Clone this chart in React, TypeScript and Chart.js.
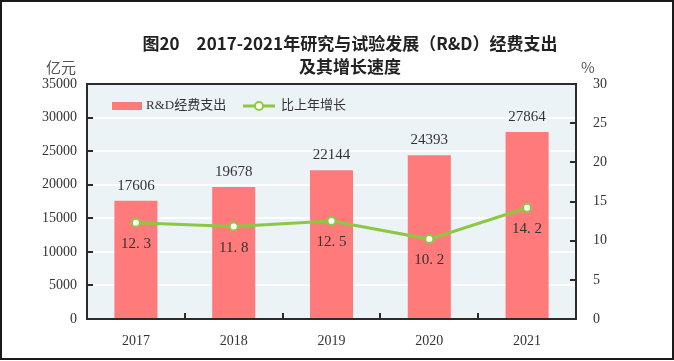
import React, { useEffect, useRef } from "react";
import { Chart, registerables } from "chart.js";

Chart.register(...registerables);

const categories = ["2017", "2018", "2019", "2020", "2021"];
const spending = [17606, 19678, 22144, 24393, 27864];
const growth = [12.3, 11.8, 12.5, 10.2, 14.2];
const leftMax = 35000;
const leftStep = 5000;
const rightMax = 30;
const rightStep = 5;
const titleLines = ["图20\u30002017-2021年研究与试验发展（R&D）经费支出", "及其增长速度"];
const leftUnit = "亿元";
const rightUnit = "%";
const barLabel = "R&D经费支出";
const lineLabel = "比上年增长";

const BAR_COLOR = "#FF7B7B";
const LINE_COLOR = "#8DC843";
const PLOT_BG = "#EBF3F7";
const TEXT = "#333333";
const SERIF = "'Liberation Serif', 'DejaVu Serif', serif";
const CJK = "'Noto Sans CJK SC', 'Noto Sans', sans-serif";

const W = 674;
const H = 361;

const decorPlugin = {
  id: "decor",
  beforeDraw(chart: any) {
    const { ctx, chartArea: a } = chart;
    ctx.save();
    ctx.fillStyle = "#ffffff";
    ctx.fillRect(0, 0, chart.width, chart.height);
    ctx.fillStyle = PLOT_BG;
    ctx.fillRect(a.left, a.top, a.right - a.left, a.bottom - a.top);
    ctx.restore();
  },
  afterDraw(chart: any) {
    const { ctx, chartArea: a } = chart;
    const yS = chart.scales.y;
    const y1S = chart.scales.y1;
    const xS = chart.scales.x;
    ctx.save();

    // value labels above bars
    const barMeta = chart.getDatasetMeta(1);
    ctx.fillStyle = TEXT;
    ctx.font = `15px ${SERIF}`;
    ctx.textAlign = "center";
    ctx.textBaseline = "middle";
    barMeta.data.forEach((el: any, i: number) => {
      ctx.fillText(String(spending[i]), el.x, el.y - 15);
    });
    // growth labels below points
    const lineMeta = chart.getDatasetMeta(0);
    lineMeta.data.forEach((el: any, i: number) => {
      ctx.fillText(growth[i].toFixed(1).replace(".", ". "), el.x, el.y + 21);
    });

    // plot frame
    ctx.strokeStyle = "#2b2b2b";
    ctx.lineWidth = 2;
    ctx.strokeRect(a.left, a.top, a.right - a.left, a.bottom - a.top);

    // inward tick marks
    ctx.lineWidth = 2;
    ctx.beginPath();
    for (let v = leftStep; v < leftMax; v += leftStep) {
      const y = Math.round(yS.getPixelForValue(v));
      ctx.moveTo(a.left, y);
      ctx.lineTo(a.left + 6, y);
    }
    for (let v = rightStep; v < rightMax; v += rightStep) {
      const y = Math.round(y1S.getPixelForValue(v));
      ctx.moveTo(a.right, y);
      ctx.lineTo(a.right - 6, y);
    }
    const cw = (a.right - a.left) / categories.length;
    for (let i = 1; i < categories.length; i++) {
      const x = Math.round(xS.getPixelForValue(i) - cw / 2);
      ctx.moveTo(x, a.bottom);
      ctx.lineTo(x, a.bottom - 6);
    }
    ctx.stroke();

    // legend
    const ly = a.top + 22;
    ctx.fillStyle = BAR_COLOR;
    ctx.fillRect(a.left + 25, ly - 4, 30, 8);
    ctx.fillStyle = TEXT;
    ctx.textAlign = "left";
    ctx.font = `13px ${SERIF}, ${CJK}`;
    ctx.fillText(barLabel, a.left + 59, ly);
    ctx.strokeStyle = LINE_COLOR;
    ctx.lineWidth = 3;
    ctx.beginPath();
    ctx.moveTo(a.left + 156, ly);
    ctx.lineTo(a.left + 188, ly);
    ctx.stroke();
    ctx.beginPath();
    ctx.arc(a.left + 172, ly, 4, 0, Math.PI * 2);
    ctx.fillStyle = "#ffffff";
    ctx.fill();
    ctx.lineWidth = 2;
    ctx.stroke();
    ctx.fillStyle = TEXT;
    ctx.fillText(lineLabel, a.left + 194, ly);

    // title
    ctx.fillStyle = "#222222";
    ctx.textAlign = "center";
    ctx.font = `bold 17px ${CJK}`;
    ctx.fillText(titleLines[0], 350, 44);
    ctx.fillText(titleLines[1], 350, 67);

    // units
    ctx.font = `15px ${CJK}`;
    ctx.fillStyle = "#555555";
    ctx.fillText(leftUnit, 61, 67);
    ctx.fillText(rightUnit, 588, 67);

    // outer frame
    ctx.strokeStyle = "#1a1a1a";
    ctx.lineWidth = 2;
    ctx.strokeRect(1, 1, W - 2, H - 3);
    ctx.restore();
  },
};

export default function App() {
  const ref = useRef<HTMLCanvasElement | null>(null);
  useEffect(() => {
    if (!ref.current) return;
    const plain = (v: any) => String(v);
    const chart = new Chart(ref.current, {
      type: "bar",
      data: {
        labels: categories,
        datasets: [
          {
            type: "line",
            label: lineLabel,
            data: growth,
            yAxisID: "y1",
            borderColor: LINE_COLOR,
            borderWidth: 3,
            pointRadius: 4,
            pointBackgroundColor: "#ffffff",
            pointBorderColor: LINE_COLOR,
            pointBorderWidth: 2,
            tension: 0,
            order: 0,
          } as any,
          {
            type: "bar",
            label: barLabel,
            data: spending,
            yAxisID: "y",
            backgroundColor: BAR_COLOR,
            barPercentage: 0.44,
            categoryPercentage: 1,
            order: 1,
          },
        ],
      },
      options: {
        responsive: false,
        animation: false,
        devicePixelRatio: 1,
        layout: { padding: { top: 84, left: 0, right: 0, bottom: 0 } },
        plugins: {
          legend: { display: false },
          title: { display: false },
          tooltip: { enabled: false },
        },
        scales: {
          x: {
            grid: { display: false },
            border: { display: false },
            ticks: { color: TEXT, font: { family: SERIF, size: 14 }, padding: 6 },
            afterFit: (s: any) => {
              s.height = 42;
            },
          },
          y: {
            position: "left",
            min: 0,
            max: leftMax,
            ticks: { stepSize: leftStep, color: TEXT, font: { family: SERIF, size: 14 }, padding: 10, callback: plain },
            grid: { color: "#ffffff", lineWidth: 2, drawTicks: false },
            border: { display: false },
            afterFit: (s: any) => {
              s.width = 87;
            },
          },
          y1: {
            position: "right",
            min: 0,
            max: rightMax,
            ticks: { stepSize: rightStep, color: TEXT, font: { family: SERIF, size: 14 }, padding: 9, callback: plain },
            grid: { display: false },
            border: { display: false },
            afterFit: (s: any) => {
              s.width = 98;
            },
          },
        },
      },
      plugins: [decorPlugin],
    } as any);
    return () => chart.destroy();
  }, []);
  return (
    <div style={{ position: "absolute", left: 0, top: 0, width: W, height: H }}>
      <canvas ref={ref} width={W} height={H} style={{ width: W, height: H, display: "block" }} />
    </div>
  );
}
